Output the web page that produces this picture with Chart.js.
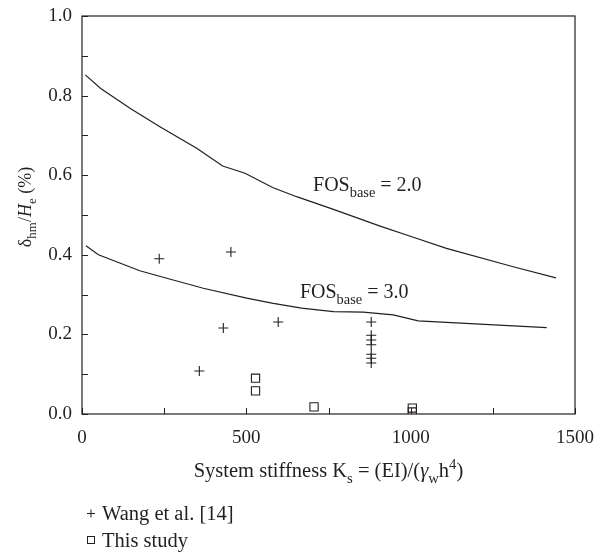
<!DOCTYPE html>
<html>
<head>
<meta charset="utf-8">
<script src="https://cdn.jsdelivr.net/npm/chart.js@4/dist/chart.umd.min.js"></script>
<style>
  html, body { margin: 0; padding: 0; background: #fff; }
  #wrap { width: 608px; height: 553px; position: relative; }
</style>
</head>
<body>
<div id="wrap"><canvas id="stiffChart"></canvas></div>
<script>
// curves: FOS_base = 2.0 and 3.0
const fos2X = [10, 57, 146, 237, 349, 428, 496, 580, 653, 765, 907, 1008, 1109, 1312, 1442];
const fos2Y = [0.852, 0.818, 0.768, 0.722, 0.668, 0.623, 0.605, 0.569, 0.546, 0.514, 0.472, 0.444, 0.416, 0.370, 0.342];
const fos3X = [12, 50, 176, 258, 369, 501, 582, 668, 765, 856, 947, 1023, 1109, 1414];
const fos3Y = [0.423, 0.400, 0.360, 0.341, 0.316, 0.291, 0.278, 0.266, 0.257, 0.256, 0.249, 0.234, 0.230, 0.217];

// measured points
const wangX = [235, 453, 430, 597, 357, 880, 880, 880, 880, 880, 880, 880];
const wangY = [0.390, 0.407, 0.216, 0.231, 0.108, 0.231, 0.198, 0.186, 0.174, 0.150, 0.140, 0.128];
const studyX = [528, 528, 706, 1005, 1005];
const studyY = [0.090, 0.058, 0.018, 0.015, 0.005];

// axis ticks
const xTickLabels = [0, 500, 1000, 1500];
const yTickLabels = [0.0, 0.2, 0.4, 0.6, 0.8, 1.0];

const legendNames = ['Wang et al. [14]', 'This study'];
const curveLabels = [
    { x: 703, y: 0.560, value: '2.0' },
    { x: 663, y: 0.291, value: '3.0' }
];

const ink = '#231f20';
const serif = '"Liberation Serif", "DejaVu Serif", serif';

function pts(xs, ys) {
    return xs.map((x, i) => ({ x: x, y: ys[i] }));
}

// draw text runs with sub / superscripts
function richText(ctx, runs, x, y, size, align) {
    let total = 0;
    runs.forEach(r => {
        const s = r.sub || r.sup ? size * 0.72 : size;
        ctx.font = (r.italic ? 'italic ' : '') + s + 'px ' + serif;
        r.w = ctx.measureText(r.t).width;
        r.s = s;
        total += r.w;
    });
    let cx = align === 'center' ? x - total / 2 : x;
    ctx.textBaseline = 'alphabetic';
    ctx.textAlign = 'left';
    runs.forEach(r => {
        ctx.font = (r.italic ? 'italic ' : '') + r.s + 'px ' + serif;
        let dy = 0;
        if (r.sub) dy = size * 0.28;
        if (r.sup) dy = -size * 0.4;
        ctx.fillText(r.t, cx, y + dy);
        cx += r.w;
    });
}

const decorations = {
    id: 'decorations',
    afterDraw(chart) {
        const ctx = chart.ctx;
        const a = chart.chartArea;
        const xs = chart.scales.x, ys = chart.scales.y;
        ctx.save();
        ctx.strokeStyle = ink;
        ctx.fillStyle = ink;
        ctx.lineWidth = 1.2;
        ctx.strokeRect(a.left, a.top, a.right - a.left, a.bottom - a.top);

        // inward tick marks
        ctx.lineWidth = 1;
        ctx.beginPath();
        xs.ticks.forEach(t => {
            const px = Math.round(xs.getPixelForValue(t.value)) + 0.5;
            ctx.moveTo(px, a.bottom);
            ctx.lineTo(px, a.bottom - 6);
        });
        ys.ticks.forEach(t => {
            const py = Math.round(ys.getPixelForValue(t.value)) + 0.5;
            ctx.moveTo(a.left, py);
            ctx.lineTo(a.left + 6, py);
        });
        ctx.stroke();

        // x title
        richText(ctx, [
            { t: 'System stiffness K' },
            { t: 's', sub: true },
            { t: ' = (EI)/(' },
            { t: 'γ', italic: true },
            { t: 'w', sub: true },
            { t: 'h' },
            { t: '4', sup: true },
            { t: ')' }
        ], (a.left + a.right) / 2, 477, 20.5, 'center');

        // y title
        ctx.save();
        ctx.translate(31, 207);
        ctx.rotate(-Math.PI / 2);
        richText(ctx, [
            { t: 'δ' },
            { t: 'hm', sub: true },
            { t: '/' },
            { t: 'H', italic: true },
            { t: 'e', sub: true },
            { t: ' (%)' }
        ], 0, 0, 18, 'center');
        ctx.restore();

        // curve labels
        curveLabels.forEach(c => {
            richText(ctx, [
                { t: 'FOS' },
                { t: 'base', sub: true },
                { t: ' = ' + c.value }
            ], xs.getPixelForValue(c.x), ys.getPixelForValue(c.y), 20, 'left');
        });

        // legend
        ctx.lineWidth = 1;
        ctx.beginPath();
        ctx.moveTo(87, 513.5); ctx.lineTo(95, 513.5);
        ctx.moveTo(91, 509.5); ctx.lineTo(91, 517.5);
        ctx.stroke();
        ctx.strokeRect(87.5, 536.5, 7, 7);
        ctx.font = '20.5px ' + serif;
        ctx.textAlign = 'left';
        ctx.textBaseline = 'alphabetic';
        ctx.fillText(legendNames[0], 102, 520);
        ctx.fillText(legendNames[1], 102, 547);
        ctx.restore();
    }
};

const ctx1 = document.getElementById('stiffChart').getContext('2d');
new Chart(ctx1, {
    type: 'scatter',
    data: {
        datasets: [
            { label: 'FOS 2.0', data: pts(fos2X, fos2Y), showLine: true, borderColor: ink, borderWidth: 1.2, pointRadius: 0, tension: 0 },
            { label: 'FOS 3.0', data: pts(fos3X, fos3Y), showLine: true, borderColor: ink, borderWidth: 1.2, pointRadius: 0, tension: 0 },
            { label: legendNames[0], data: pts(wangX, wangY), pointStyle: 'cross', pointRadius: 5, borderColor: ink, borderWidth: 1.1, backgroundColor: ink },
            { label: legendNames[1], data: pts(studyX, studyY), pointStyle: 'rect', pointRadius: 5.8, borderColor: ink, borderWidth: 1.1, backgroundColor: 'rgba(0,0,0,0)' }
        ]
    },
    options: {
        responsive: true, maintainAspectRatio: false, animation: false,
        layout: { padding: { left: 0, top: 16, right: 33, bottom: 100 } },
        plugins: { legend: { display: false }, tooltip: { enabled: false } },
        scales: {
            x: {
                type: 'linear', min: 0, max: 1500,
                grid: { display: false }, border: { display: false },
                afterFit: s => { s.height = 39; },
                ticks: {
                    stepSize: 250, padding: 5, color: ink, font: { family: serif, size: 19 },
                    callback: v => xTickLabels.includes(v) ? String(v) : ''
                }
            },
            y: {
                type: 'linear', min: 0, max: 1,
                grid: { display: false }, border: { display: false },
                afterFit: s => { s.width = 82; },
                ticks: {
                    stepSize: 0.1, padding: 2, color: ink, font: { family: serif, size: 19 },
                    callback: v => {
                        const hit = yTickLabels.find(t => Math.abs(t - v) < 1e-6);
                        return hit === undefined ? '' : hit.toFixed(1);
                    }
                }
            }
        }
    },
    plugins: [decorations]
});
</script>
</body>
</html>
